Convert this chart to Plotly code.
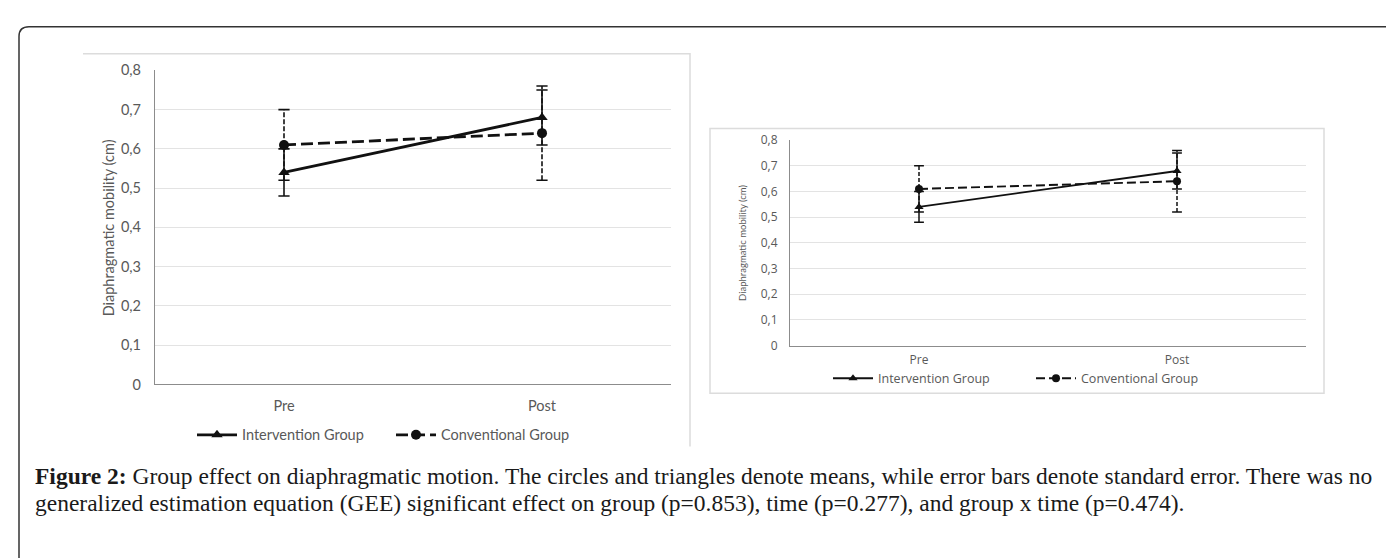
import plotly.graph_objects as go

W, H = 1394, 558

# ---- data ----
categories = ["Pre", "Post"]
intervention_mean = [0.54, 0.68]
intervention_se = [0.06, 0.07]
conventional_mean = [0.61, 0.64]
conventional_se = [0.09, 0.12]
y_tickvals = [0, 0.1, 0.2, 0.3, 0.4, 0.5, 0.6, 0.7, 0.8]
y_ticktext = ["0", "0,1", "0,2", "0,3", "0,4", "0,5", "0,6", "0,7", "0,8"]
series_names = ["Intervention Group", "Conventional Group"]
y_title = "Diaphragmatic mobility (cm)"
caption_line1 = ("<b>Figure 2:</b> Group effect on diaphragmatic motion. The circles and triangles denote means, "
                 "while error bars denote standard error. There was no")
caption_line2 = ("generalized estimation equation (GEE) significant effect on group (p=0.853), time (p=0.277), "
                 "and group x time (p=0.474).")


def px(x):
    return x / W


def py(y):
    return 1 - y / H


fig = go.Figure()


def add_panel(xa, ya, legend, main_w, err_w, msize, cap_size, main_dash, err_dash):
    xr = "x" if xa == 1 else f"x{xa}"
    yr = "y" if ya == 1 else f"y{ya}"
    for mean, se, dash in [(intervention_mean, intervention_se, "solid"),
                           (conventional_mean, conventional_se, err_dash)]:
        xs, ys, cx, cy = [], [], [], []
        for c, m, s in zip(categories, mean, se):
            xs += [c, c, None]
            ys += [m - s, m + s, None]
            cx += [c, c]
            cy += [m - s, m + s]
        fig.add_trace(go.Scatter(x=xs, y=ys, mode="lines", xaxis=xr, yaxis=yr,
                                 line=dict(color="#111", width=err_w, dash=dash),
                                 showlegend=False, hoverinfo="skip"))
        fig.add_trace(go.Scatter(x=cx, y=cy, mode="markers", xaxis=xr, yaxis=yr,
                                 marker=dict(symbol="line-ew", size=cap_size,
                                             line=dict(color="#111", width=err_w)),
                                 showlegend=False, hoverinfo="skip"))
    fig.add_trace(go.Scatter(x=categories, y=intervention_mean, mode="lines+markers",
                             name=series_names[0], xaxis=xr, yaxis=yr, legend=legend,
                             line=dict(color="#111", width=main_w),
                             marker=dict(symbol="triangle-up", size=msize, color="#111")))
    fig.add_trace(go.Scatter(x=categories, y=conventional_mean, mode="lines+markers",
                             name=series_names[1], xaxis=xr, yaxis=yr, legend=legend,
                             line=dict(color="#111", width=main_w, dash=main_dash),
                             marker=dict(symbol="circle", size=msize, color="#111")))


add_panel(1, 1, "legend", 2.8, 1.6, 10, 8, "12px,5px", "5px,2px")
add_panel(2, 2, "legend2", 1.9, 1.5, 8, 7, "9px,4px", "4px,2px")

grid = "#e3e3e3"
axline = "#8c8c8c"
lab = "#595959"

common_x = dict(type="category", range=[-0.5, 1.5], showline=True, linecolor=axline, linewidth=1.2,
                showgrid=False, ticks="outside", tickcolor="rgba(0,0,0,0)", zeroline=False, fixedrange=True)
common_y = dict(range=[0, 0.8], tickvals=y_tickvals, ticktext=y_ticktext, showline=True,
                linecolor=axline, linewidth=1.2, showgrid=True, gridcolor=grid, gridwidth=1.2,
                ticks="outside", tickcolor="rgba(0,0,0,0)", zeroline=False, fixedrange=True)

fig.update_layout(
    width=W, height=H, margin=dict(l=0, r=0, t=0, b=0),
    paper_bgcolor="white", plot_bgcolor="white",
    xaxis=dict(common_x, domain=[px(147), px(663)], anchor="y", ticklen=8,
               tickfont=dict(family="Lato", size=14.5, color=lab)),
    yaxis=dict(common_y, domain=[py(379), py(55)], anchor="x", ticklen=10,
               tickfont=dict(family="Lato", size=14.5, color=lab)),
    xaxis2=dict(common_x, domain=[px(782), px(1298)], anchor="y2", ticklen=3,
                tickfont=dict(family="Open Sans", size=12, color=lab)),
    yaxis2=dict(common_y, domain=[py(339), py(127)], anchor="x2", ticklen=9,
                tickfont=dict(family="Open Sans", size=12, color=lab)),
    legend=dict(orientation="h", x=px(184), y=py(431), xanchor="left", yanchor="middle",
                font=dict(family="Lato", size=14.5, color=lab), bgcolor="rgba(0,0,0,0)",
                entrywidth=144, entrywidthmode="pixels", itemwidth=40),
    legend2=dict(orientation="h", x=px(820), y=py(373), xanchor="left", yanchor="middle",
                 font=dict(family="Open Sans", size=12.5, color=lab), bgcolor="rgba(0,0,0,0)",
                 entrywidth=148, entrywidthmode="pixels", itemwidth=40),
    showlegend=True,
)

# y-axis titles
fig.add_annotation(x=px(100), y=py(218), xref="paper", yref="paper", text=y_title, textangle=-90,
                   xanchor="center", yanchor="middle",
                   showarrow=False, font=dict(family="Lato", size=14.5, color=lab))
fig.add_annotation(x=px(735), y=py(233), xref="paper", yref="paper", text=y_title, textangle=-90,
                   xanchor="center", yanchor="middle",
                   showarrow=False, font=dict(family="Lato", size=9.5, color=lab))

# caption
fig.add_annotation(x=px(25), y=py(473), xref="paper", yref="paper", text=caption_line1,
                   xanchor="left", yanchor="middle", showarrow=False,
                   font=dict(family="Liberation Serif", size=23.5, color="#1a1a1a"))
fig.add_annotation(x=px(25), y=py(501), xref="paper", yref="paper", text=caption_line2,
                   xanchor="left", yanchor="middle", showarrow=False,
                   font=dict(family="Liberation Serif", size=23.5, color="#1a1a1a"))

# frames
r = 10
outer = (f"M {px(11)},{py(H+5)} L {px(11)},{py(10+r)} Q {px(11)},{py(10)} {px(11+r)},{py(10)} "
         f"L {px(1390-r)},{py(10)} Q {px(1390)},{py(10)} {px(1390)},{py(10+r)} L {px(1390)},{py(H+5)}")
fig.add_shape(type="path", path=outer, xref="paper", yref="paper", line=dict(color="#333", width=1.5))
fig.add_shape(type="path", xref="paper", yref="paper",
              path=f"M {px(75)},{py(38)} L {px(682)},{py(38)} L {px(682)},{py(443)}",
              line=dict(color="#dcdcdc", width=1.5))
fig.add_shape(type="rect", xref="paper", yref="paper", x0=px(702), y0=py(388), x1=px(1316), y1=py(115),
              line=dict(color="#dcdcdc", width=1.5))

fig.write_html("out.html")
